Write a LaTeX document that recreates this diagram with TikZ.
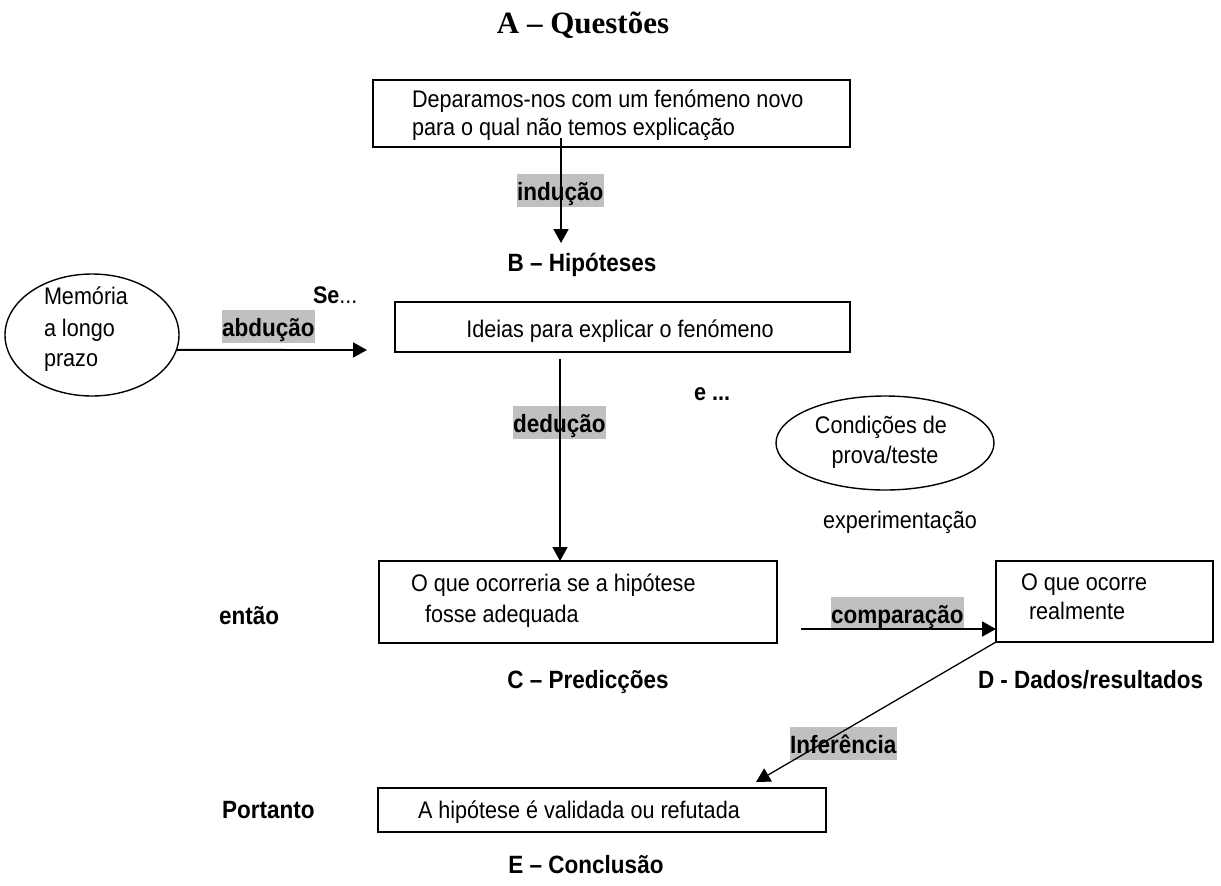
\documentclass[tikz,border=0pt]{standalone}
\usepackage{fontspec}
\setmainfont{Liberation Sans}[FakeStretch=0.9]
\newfontfamily\headfont{Liberation Serif}
\usetikzlibrary{arrows.meta,shapes.geometric}
\definecolor{hlgrey}{HTML}{C0C0C0}

\begin{document}
\begin{tikzpicture}[x=1pt,y=-1pt,
  every node/.style={inner sep=0pt, outer sep=0pt},
  box/.style={draw, line width=1.8pt},
  oval/.style={draw, ellipse, line width=1.4pt},
  txt/.style={anchor=base west, font=\fontsize{24}{28}\selectfont},
  ctxt/.style={txt, anchor=base},
  lbl/.style={anchor=base west, font=\fontsize{25}{28}\selectfont\bfseries},
  clbl/.style={lbl, anchor=base},
  hl/.style={lbl, fill=hlgrey, inner xsep=0.5pt, text height=26pt, text depth=7pt},
  arr/.style={line width=1.9pt, -{Triangle[length=14pt,width=15pt]}},
  thinarr/.style={line width=1.3pt, -{Triangle[length=14pt,width=15pt]}},
]
\useasboundingbox (0,0) rectangle (1221,886);

% heading
\node[anchor=base, font=\fontsize{31}{36}\selectfont\headfont\bfseries] (title) at (583,33) {A – Questões};

% A: the question
\node[box, minimum width=477pt, minimum height=67pt] (box1) at (611.5,113.5) {};
\node[txt] (q1) at (412,107) {Deparamos-nos com um fenómeno novo};
\node[txt] (q2) at (412,135) {para o qual não temos explicação};
\node[hl] (ind) at (516.5,200) {indução};
\node[clbl] (hipB) at (582,271) {B – Hipóteses};

% long-term memory
\node[oval, minimum width=174pt, minimum height=122pt] (mem) at (92,335) {};
\node[txt] (m1) at (44,304) {Memória};
\node[txt] (m2) at (44,336) {a longo};
\node[txt] (m3) at (44,366) {prazo};
\node[txt] (se) at (313,303) {\textbf{Se}...};
\node[hl] (abd) at (221.5,336) {abdução};

% B: hypotheses
\node[box, minimum width=455pt, minimum height=50pt] (box2) at (622.5,327) {};
\node[ctxt] (h1) at (620,337) {Ideias para explicar o fenómeno};
\node[hl] (ded) at (512.5,432) {dedução};
\node[txt] (eand) at (694,400) {\textbf{e ...}};

% test conditions
\node[oval, minimum width=218pt, minimum height=94pt] (cond) at (885,443) {};
\node[ctxt] (c1) at (881,433) {Condições de};
\node[ctxt] (c2) at (885,463) {prova/teste};
\node[ctxt] (exp) at (900,528) {experimentação};

% C: predictions
\node[box, minimum width=398pt, minimum height=82pt] (box3) at (578,602) {};
\node[txt] (p1) at (411,591) {O que ocorreria se a hipótese};
\node[txt] (p2) at (425,622) {fosse adequada};
\node[lbl] (entao) at (219,624) {então};
\node[clbl] (predC) at (588,688) {C – Predicções};

% D: data
\node[box, minimum width=217pt, minimum height=81pt] (box4) at (1104.5,601.5) {};
\node[txt] (d1) at (1021,590) {O que ocorre};
\node[txt] (d2) at (1029,619) {realmente};
\node[hl] (comp) at (830.5,623) {comparação};
\node[lbl] (dadD) at (978,688) {D - Dados/resultados};
\node[hl] (inf) at (789.5,753) {Inferência};

% E: conclusion
\node[box, minimum width=448pt, minimum height=44pt] (box5) at (602,810) {};
\node[txt] (r1) at (418,818) {A hipótese é validada ou refutada};
\node[lbl] (port) at (222,818) {Portanto};
\node[clbl] (concE) at (586,873) {E – Conclusão};

% connectors
\coordinate (s1) at (561,138);
\coordinate (t1) at (561,243);
\draw[arr] (s1) -- (t1);

\coordinate (t3) at (367,350);
\draw[arr] (mem.-10) -- (t3);

\coordinate (s2) at (560,359);
\draw[arr] (s2) -- (box3.north -| s2);

\coordinate (s4) at (801,629);
\draw[arr] (s4) -- (box4.west |- s4);

\coordinate (t5) at (756,782);
\draw[thinarr] (box4.south west) -- (t5);
\end{tikzpicture}
\end{document}
